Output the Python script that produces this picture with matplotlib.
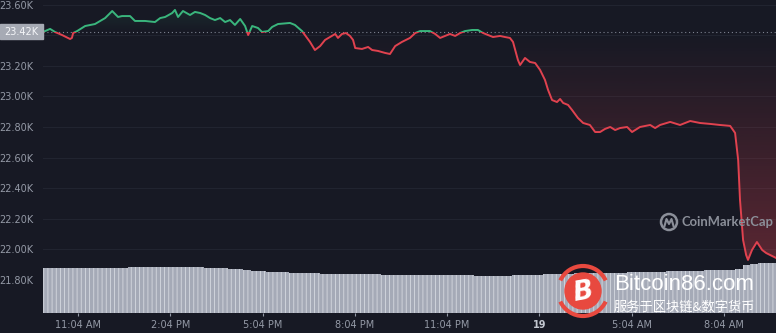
import numpy as np
import matplotlib
matplotlib.use('Agg')
import matplotlib.pyplot as plt
from matplotlib.patches import Polygon, Rectangle, Circle, Arc
from matplotlib.colors import to_rgb

# hours after 11:04 AM (day 18) and BTC price in USD
hours = [-1.14, -0.91, -0.75, -0.52, -0.26, -0.20, -0.16, -0.03, 0.23, 0.55,
         0.88, 1.11, 1.30, 1.43, 1.69, 1.85, 2.18, 2.50, 2.67, 2.83,
         3.06, 3.15, 3.25, 3.41, 3.64, 3.80, 3.97, 4.13, 4.29, 4.45,
         4.62, 4.78, 4.94, 5.10, 5.27, 5.43, 5.53, 5.66, 5.85, 5.98,
         6.18, 6.31, 6.50, 6.89, 7.05, 7.28, 7.54, 7.70, 7.87, 8.03,
         8.19, 8.36, 8.45, 8.58, 8.71, 8.84, 8.94, 9.01, 9.23, 9.43,
         9.56, 9.75, 9.98, 10.14, 10.31, 10.53, 10.79, 10.96, 11.12, 11.44,
         11.61, 11.77, 11.93, 12.09, 12.26, 12.42, 12.58, 12.81, 13.00, 13.17,
         13.33, 13.49, 13.72, 13.88, 14.04, 14.14, 14.30, 14.37, 14.53, 14.69,
         14.86, 15.02, 15.18, 15.28, 15.41, 15.57, 15.67, 15.77, 15.93, 16.06,
         16.25, 16.42, 16.64, 16.81, 16.97, 17.13, 17.30, 17.46, 17.62, 17.85,
         18.01, 18.27, 18.60, 18.76, 18.92, 19.25, 19.57, 19.90, 20.22, 20.55,
         20.87, 21.20, 21.36, 21.46, 21.52, 21.62, 21.72, 21.78, 21.91, 22.07,
         22.24, 22.37, 22.50, 22.69]
price = [23421, 23441, 23421, 23401, 23375, 23382, 23414, 23427, 23460, 23473,
         23512, 23558, 23519, 23525, 23525, 23493, 23493, 23486, 23512, 23519,
         23545, 23565, 23519, 23558, 23532, 23552, 23545, 23532, 23512, 23499,
         23512, 23486, 23499, 23467, 23506, 23460, 23401, 23460, 23447, 23421,
         23427, 23454, 23473, 23480, 23467, 23427, 23356, 23303, 23329, 23369,
         23388, 23408, 23382, 23408, 23414, 23395, 23369, 23316, 23310, 23323,
         23303, 23297, 23284, 23277, 23329, 23356, 23382, 23414, 23427, 23427,
         23408, 23382, 23395, 23408, 23395, 23414, 23427, 23434, 23434, 23414,
         23401, 23388, 23395, 23388, 23382, 23356, 23238, 23205, 23251, 23225,
         23218, 23173, 23107, 23042, 22976, 22963, 22983, 22957, 22944, 22911,
         22859, 22826, 22813, 22767, 22767, 22787, 22800, 22780, 22793, 22800,
         22767, 22800, 22813, 22793, 22813, 22833, 22813, 22839, 22826, 22820,
         22813, 22807, 22761, 22584, 22323, 22061, 21963, 21931, 21996, 22048,
         21996, 21976, 21963, 21944]
open_price = 23420

# 15 minute volume bars (relative units)
volume = [44.8, 45.0, 45.1, 44.9, 45.0, 45.2, 45.0, 44.9, 45.1, 45.0, 45.1,
          46.3, 46.5, 46.4, 46.2, 46.3, 46.1, 46.0, 45.9, 45.8, 45.6,
          45.3, 45.0, 44.6, 44.1, 43.6, 43.0, 42.4, 41.8,
          41.3, 40.9, 40.6, 40.3, 40.1, 39.9, 39.6, 39.4, 39.2,
          39.0, 38.9, 38.8, 38.7, 38.7, 38.6, 38.5, 38.4, 38.3, 38.2, 38.1, 38.0,
          37.9, 37.8, 37.8, 37.7, 37.6, 37.6, 37.5, 37.5, 37.4, 37.4, 37.5, 37.6, 37.8,
          38.0, 38.3, 38.6, 38.9, 39.2, 39.4,
          39.6, 39.8, 40.0, 40.1, 40.2, 40.3, 40.4, 40.6, 40.8, 41.0, 41.2,
          41.4, 41.6, 41.8, 42.0, 42.2, 42.4, 42.6, 42.8, 43.0, 43.4, 44.5,
          48.5, 49.5, 49.8, 50.0, 50.2]

tick_hours = [0, 3, 6, 9, 12, 15, 18, 21]
tick_labels = ['11:04 AM', '2:04 PM', '5:04 PM', '8:04 PM', '11:04 PM', '19', '5:04 AM', '8:04 AM']
y_ticks = [21800, 22000, 22200, 22400, 22600, 22800, 23000, 23200, 23400, 23600]

BG = '#171924'
GRID = '#222531'
TXT = '#9499a6'
GREEN = '#3ab67d'
RED = '#e0424f'

t = np.array(hours)
p = np.array(price, dtype=float)
x0, x1 = -1.14, 22.69
y0, y1 = 21584, 23630

plt.rcParams['hatch.linewidth'] = 0.6
fig = plt.figure(figsize=(7.76, 3.33), dpi=100, facecolor=BG)
ax = fig.add_axes([43/776, 20/333, 733/776, 313/333], zorder=1)
ax.set_facecolor(BG)

# gradient fills between line and open price
red_img = np.zeros((256, 1, 4))
red_img[..., :3] = to_rgb(RED)
red_img[:, 0, 3] = np.linspace(0.34, 0, 256)
im = ax.imshow(red_img, extent=[x0, x1, 21900, open_price], origin='lower', aspect='auto', zorder=2)
verts = np.column_stack([np.r_[t[0], t, t[-1]], np.r_[open_price, np.minimum(p, open_price), open_price]])
clip = Polygon(verts, closed=True, transform=ax.transData, fc='none', ec='none')
ax.add_patch(clip)
im.set_clip_path(clip)

green_img = np.zeros((256, 1, 4))
green_img[..., :3] = to_rgb(GREEN)
green_img[:, 0, 3] = np.linspace(0, 0.14, 256)
im2 = ax.imshow(green_img, extent=[x0, x1, open_price, 23600], origin='lower', aspect='auto', zorder=2)
verts2 = np.column_stack([np.r_[t[0], t, t[-1]], np.r_[open_price, np.maximum(p, open_price), open_price]])
clip2 = Polygon(verts2, closed=True, transform=ax.transData, fc='none', ec='none')
ax.add_patch(clip2)
im2.set_clip_path(clip2)

ax.axhline(open_price, color='#7d8290', lw=0.8, ls=(0, (1, 2.5)), zorder=3)

up, = ax.plot(t, p, color=GREEN, lw=1.4, zorder=4)
up.set_clip_path(Rectangle((x0, open_price), x1 - x0, y1 - open_price, transform=ax.transData))
down, = ax.plot(t, p, color=RED, lw=1.4, zorder=4)
down.set_clip_path(Rectangle((x0, y0), x1 - x0, open_price - y0, transform=ax.transData))

ax.set_xlim(x0, x1)
ax.set_ylim(y0, y1)
ax.set_yticks(y_ticks)
ax.set_yticklabels(['' if v == 23400 else f'{v/1000:.2f}K' for v in y_ticks])
ax.tick_params(axis='y', length=0, pad=7, labelsize=7, labelcolor=TXT)
ax.set_xticks([])
ax.grid(axis='y', color=GRID, lw=0.7)
for s in ax.spines.values():
    s.set_visible(False)

# volume
vax = fig.add_axes([43/776, 20/333, 733/776, 50/333], zorder=2)
vax.set_facecolor('none')
vt = x0 + 0.25 * np.arange(len(volume))
vax.bar(vt, volume, width=0.25, align='edge', color='#a5aab7', edgecolor='#d6d9e0',
        linewidth=0, hatch='||||')
vax.set_xlim(x0, x1)
vax.set_ylim(0, 50)
vax.set_yticks([])
vax.set_xticks(tick_hours)
vax.set_xticklabels(tick_labels)
vax.tick_params(axis='x', length=2, color=TXT, pad=3, labelsize=7, labelcolor=TXT)
lbls = vax.get_xticklabels()
lbls[5].set_fontweight('bold')
lbls[5].set_color('#c3c7d0')
for s in vax.spines.values():
    s.set_visible(False)

# overlay in pixel units for labels and watermarks
ov = fig.add_axes([0, 0, 1, 1], zorder=5)
ov.set_xlim(0, 776)
ov.set_ylim(333, 0)
ov.axis('off')
ov.add_patch(Rectangle((0, 24), 43, 15, color='#a6aab4'))
ov.text(21.5, 31.8, '23.42K', ha='center', va='center', fontsize=7, color='#f4f5f8')

WM = '#8b8f99'
ov.add_patch(Circle((669, 222), 8, fill=False, ec=WM, lw=1.8))
ov.plot([664.5, 666.5, 669, 671.5, 673.5], [226, 219, 224, 219, 226], color=WM, lw=1.5)
ov.text(682, 222, 'CoinMarketCap', ha='left', va='center', fontsize=9.4, fontweight='bold',
        color=WM, family='Lato')

LOGO = '#e8493f'
ov.add_patch(Circle((583, 291), 18, color=LOGO))
ov.add_patch(Arc((583, 291), 50, 50, theta1=25, theta2=155, color=LOGO, lw=3))
ov.add_patch(Arc((583, 291), 50, 50, theta1=205, theta2=335, color=LOGO, lw=3))
ov.text(583, 292, 'B', ha='center', va='center', fontsize=19, fontweight='bold',
        fontstyle='italic', color='white', rotation=10)
ov.text(614, 284, 'Bitcoin86.com', ha='left', va='center', fontsize=16, color='white',
        family='Liberation Sans')
ov.text(614, 307, '服务于区块链&数字货币', ha='left', va='center', fontsize=9.5, color='white',
        family=['Noto Sans CJK SC', 'DejaVu Sans'])

fig.savefig('out.png', dpi=100, facecolor=BG)
